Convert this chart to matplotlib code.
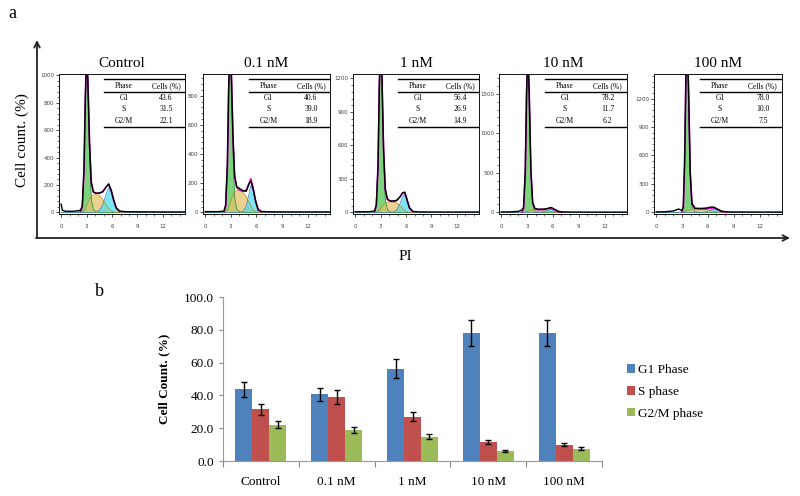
import matplotlib
matplotlib.use('Agg')
import matplotlib.pyplot as plt
import numpy as np
from matplotlib.ticker import MultipleLocator, AutoMinorLocator

plt.rcParams.update({'font.family': ['Liberation Serif', 'DejaVu Serif'], 'font.size': 10})

# ---- panel a: flow cytometry histograms ----
doses = ['Control', '0.1 nM', '1 nM', '10 nM', '100 nM']

# PI positions read for each panel
hist_x = [
    [0, 0.15, 0.5, 1.5, 2.3, 2.5, 2.7, 2.85, 3.0, 3.15, 3.35, 3.55, 3.8, 4.1, 4.5, 4.9, 5.3, 5.6, 5.9, 6.2, 6.5, 6.9, 7.5, 9, 12, 14.6],
    [0, 0.5, 1.5, 2.2, 2.4, 2.6, 2.75, 2.9, 3.05, 3.25, 3.45, 3.7, 4.0, 4.4, 4.8, 5.1, 5.35, 5.6, 5.9, 6.2, 6.6, 7.5, 9, 12, 14.6],
    [0, 0.5, 1.5, 2.3, 2.5, 2.7, 2.85, 3.0, 3.15, 3.35, 3.55, 3.8, 4.1, 4.5, 4.9, 5.3, 5.6, 5.85, 6.1, 6.4, 6.8, 7.5, 9, 12, 14.6],
    [0, 1, 2.0, 2.4, 2.6, 2.8, 2.95, 3.1, 3.25, 3.45, 3.65, 3.9, 4.3, 5.0, 5.4, 5.8, 6.2, 6.6, 7.0, 8, 10, 12, 14.6],
    [0, 1, 2.0, 2.6, 3.0, 3.15, 3.3, 3.45, 3.6, 3.75, 3.95, 4.15, 4.5, 5.2, 5.8, 6.3, 6.7, 7.1, 7.6, 8.2, 9, 12, 14.6],
]
# G1 model component
hist_g1 = [
    [0, 0, 0, 0, 5, 40, 300, 800, 1100, 900, 400, 100, 20, 5, 0, 0, 0, 0, 0, 0, 0, 0, 0, 0, 0, 0],
    [0, 0, 0, 3, 40, 300, 800, 1050, 900, 400, 100, 20, 5, 0, 0, 0, 0, 0, 0, 0, 0, 0, 0, 0, 0],
    [0, 0, 0, 5, 60, 400, 1100, 1500, 1200, 500, 120, 25, 5, 0, 0, 0, 0, 0, 0, 0, 0, 0, 0, 0, 0],
    [0, 0, 0, 2, 40, 500, 1500, 2000, 1500, 500, 100, 15, 0, 0, 0, 0, 0, 0, 0, 0, 0, 0, 0],
    [0, 0, 0, 0, 3, 50, 500, 1400, 1800, 1300, 400, 60, 5, 0, 0, 0, 0, 0, 0, 0, 0, 0, 0],
]
# S model component
hist_s = [
    [0, 0, 0, 0, 0, 3, 12, 30, 50, 75, 100, 118, 128, 132, 125, 95, 55, 30, 12, 4, 0, 0, 0, 0, 0, 0],
    [0, 0, 0, 0, 3, 15, 35, 60, 90, 120, 140, 150, 150, 140, 110, 75, 45, 20, 6, 0, 0, 0, 0, 0, 0],
    [0, 0, 0, 0, 2, 8, 20, 35, 50, 68, 82, 92, 95, 95, 85, 60, 35, 18, 6, 0, 0, 0, 0, 0, 0],
    [0, 0, 0, 0, 2, 5, 10, 15, 20, 25, 28, 30, 32, 28, 20, 10, 4, 0, 0, 0, 0, 0, 0],
    [0, 0, 0, 0, 0, 3, 8, 15, 20, 25, 28, 32, 35, 35, 30, 20, 12, 5, 1, 0, 0, 0, 0],
]
# G2/M model component
hist_g2 = [
    [0, 0, 0, 0, 0, 0, 0, 0, 0, 0, 0, 0, 0, 3, 15, 55, 130, 178, 150, 85, 30, 5, 0, 0, 0, 0],
    [0, 0, 0, 0, 0, 0, 0, 0, 0, 0, 0, 0, 0, 5, 40, 120, 185, 150, 70, 15, 2, 0, 0, 0, 0],
    [0, 0, 0, 0, 0, 0, 0, 0, 0, 0, 0, 0, 0, 2, 20, 80, 140, 160, 110, 40, 5, 0, 0, 0, 0],
    [0, 0, 0, 0, 0, 0, 0, 0, 0, 0, 0, 0, 0, 8, 25, 40, 25, 8, 2, 0, 0, 0, 0],
    [0, 0, 0, 0, 0, 0, 0, 0, 0, 0, 0, 0, 0, 0, 5, 25, 35, 25, 8, 1, 0, 0, 0],
]
# measured counts (black line)
hist_raw = [
    [60, 15, 8, 8, 15, 50, 320, 830, 1150, 960, 500, 220, 150, 140, 140, 150, 185, 205, 160, 88, 32, 10, 5, 4, 3, 3],
    [5, 5, 5, 8, 50, 330, 850, 1120, 990, 530, 250, 175, 165, 150, 145, 190, 215, 165, 80, 20, 6, 4, 3, 3, 3],
    [5, 5, 5, 12, 70, 420, 1130, 1550, 1260, 580, 210, 120, 102, 102, 108, 140, 175, 180, 118, 42, 8, 4, 3, 3, 3],
    [5, 6, 12, 30, 60, 520, 1520, 2050, 1530, 540, 130, 50, 40, 42, 50, 62, 40, 15, 6, 4, 3, 3, 3],
    [5, 6, 15, 35, 20, 60, 520, 1430, 1830, 1330, 430, 95, 42, 42, 45, 55, 55, 35, 12, 5, 4, 3, 3],
]
hist_ymax = [1010, 950, 1240, 1750, 1460]
hist_ystep = [200, 200, 300, 500, 300]
hist_ytop = [1000, 800, 1200, 1500, 1200]

# table values inside each histogram
phases = ['G1', 'S', 'G2/M']
g1_pct = [43.6, 40.6, 56.4, 78.2, 78.0]
s_pct = [31.5, 39.0, 26.9, 11.7, 10.0]
g2_pct = [22.1, 18.9, 14.9, 6.2, 7.5]

# ---- panel b: bar chart ----
groups = ['Control', '0.1 nM', '1 nM', '10 nM', '100 nM']
g1_err = [4.5, 4.0, 5.8, 8.0, 8.0]
s_err = [3.3, 4.0, 2.8, 1.2, 1.0]
g2_err = [2.2, 1.8, 1.5, 0.7, 0.8]
legend_names = ['G1 Phase', 'S phase', 'G2/M phase']
bar_colors = ['#4F81BD', '#C0504D', '#9BBB59']

W, H = 800, 496
fig = plt.figure(figsize=(W / 100, H / 100), dpi=100)


def px_axes(l, t, r, b):
    return fig.add_axes([l / W, 1 - b / H, (r - l) / W, (b - t) / H])


# full figure overlay for the big arrows and labels
frame = fig.add_axes([0, 0, 1, 1])
frame.set_xlim(0, W)
frame.set_ylim(H, 0)
frame.axis('off')
frame.annotate('', xy=(37, 40), xytext=(37, 238),
               arrowprops=dict(arrowstyle='->', lw=1.3, color='#222222', shrinkA=0, shrinkB=0))
frame.annotate('', xy=(790, 238), xytext=(36, 238),
               arrowprops=dict(arrowstyle='->', lw=1.3, color='#222222', shrinkA=0, shrinkB=0))
frame.text(8, 14, 'a', fontsize=13, va='center', ha='left')
frame.text(95, 291, 'b', fontsize=13, va='center', ha='left')
frame.text(22, 140, 'Cell count. (%)', fontsize=11, rotation=90, ha='center', va='center')
frame.text(405, 256, 'PI', fontsize=11, ha='center', va='center')

box_left = [59, 203, 353, 499, 654]
box_right = [185, 330, 479, 627, 782]
box_top, box_bottom = 74, 214

for i in range(5):
    ax = px_axes(box_left[i], box_top, box_right[i], box_bottom)
    x = np.array(hist_x[i])
    g1 = np.array(hist_g1[i])
    s = np.array(hist_s[i])
    g2 = np.array(hist_g2[i])
    ax.fill_between(x, 0, g1, color='#5EC85E', alpha=0.8, lw=0)
    ax.fill_between(x, 0, s, color='#E3C26A', alpha=0.75, lw=0)
    ax.fill_between(x, 0, g2, color='#45DDEE', alpha=0.7, lw=0)
    ax.plot(x, g1, color='#2E8B2E', lw=0.5)
    ax.plot(x, s, color='#C08A20', lw=0.5)
    ax.plot(x, g2, color='#2A7FD0', lw=0.5)
    fit = (g1 + s + g2).astype(float)
    fit[fit <= 0] = np.nan
    ax.plot(x, fit, color='#CC00CC', lw=1.2)
    ax.plot(x, hist_raw[i], color='black', lw=1.0)

    ax.set_xlim(-0.25, 14.6)
    ax.set_ylim(-hist_ymax[i] * 0.012, hist_ymax[i])
    ax.set_xticks([0, 3, 6, 9, 12])
    ax.set_yticks(np.arange(0, hist_ytop[i] + 1, hist_ystep[i]))
    ax.xaxis.set_minor_locator(MultipleLocator(1))
    ax.yaxis.set_minor_locator(AutoMinorLocator(5))
    ax.tick_params(labelsize=4, labelcolor='#444444', length=2, width=0.5, pad=1.5,
                   labelfontfamily='DejaVu Sans')
    ax.tick_params(which='minor', length=1.2, width=0.4)
    ax.tick_params(axis='x', pad=5)
    for sp in ax.spines.values():
        sp.set_linewidth(0.7)
        sp.set_color('#111111')
    ax.set_title(doses[i], fontsize=11, pad=5)

    # inset table
    tx0, tx1 = 0.36, 0.99
    for yy in [0.964, 0.871, 0.621]:
        ax.plot([tx0, tx1], [yy, yy], transform=ax.transAxes, color='black', lw=1.0)
    ax.text(0.516, 0.914, 'Phase', transform=ax.transAxes, fontsize=5.5, ha='center', va='center')
    ax.text(0.85, 0.914, 'Cells (%)', transform=ax.transAxes, fontsize=5.5, ha='center', va='center')
    vals = [g1_pct[i], s_pct[i], g2_pct[i]]
    for k, yy in enumerate([0.829, 0.75, 0.664]):
        ax.text(0.516, yy, phases[k], transform=ax.transAxes, fontsize=5.5, ha='center', va='center')
        ax.text(0.85, yy, '{:.1f}'.format(vals[k]), transform=ax.transAxes, fontsize=5.5,
                ha='center', va='center')

# ---- bar chart ----
bx = px_axes(223, 297, 602, 461)
pos = np.arange(len(groups))
w = 0.224
series = [(g1_pct, g1_err), (s_pct, s_err), (g2_pct, g2_err)]
for k, (vals, errs) in enumerate(series):
    bx.bar(pos + (k - 1) * w, vals, width=w, color=bar_colors[k], label=legend_names[k],
           yerr=errs, capsize=2.2, error_kw=dict(ecolor='black', elinewidth=1, capthick=1))

bx.set_xlim(-0.5, len(groups) - 0.5)
bx.set_ylim(0, 100)
bx.set_yticks(np.arange(0, 101, 20))
bx.set_yticklabels(['{:.1f}'.format(v) for v in np.arange(0, 101, 20)])
bx.set_xticks(np.arange(-0.5, len(groups), 1))
bx.set_xticklabels([])
bx.set_xticks(pos, minor=True)
bx.set_xticklabels(groups, minor=True)
bx.tick_params(axis='x', which='major', length=4, color='#888888', direction='out')
bx.tick_params(axis='x', which='minor', length=0, pad=11, labelsize=9.5)
bx.tick_params(axis='y', length=3, color='#888888', labelsize=9.5)
for side in ['top', 'right']:
    bx.spines[side].set_visible(False)
for side in ['left', 'bottom']:
    bx.spines[side].set_color('#999999')
bx.set_ylabel('Cell Count. (%)', fontsize=9.5, fontweight='bold', labelpad=10)
bx.legend(loc='center left', bbox_to_anchor=(615 / W, 1 - 392 / H), bbox_transform=fig.transFigure,
          frameon=False, fontsize=9.5, handlelength=0.6, handleheight=0.6, handletextpad=0.25,
          labelspacing=0.75)

fig.savefig('out.png', dpi=100)
